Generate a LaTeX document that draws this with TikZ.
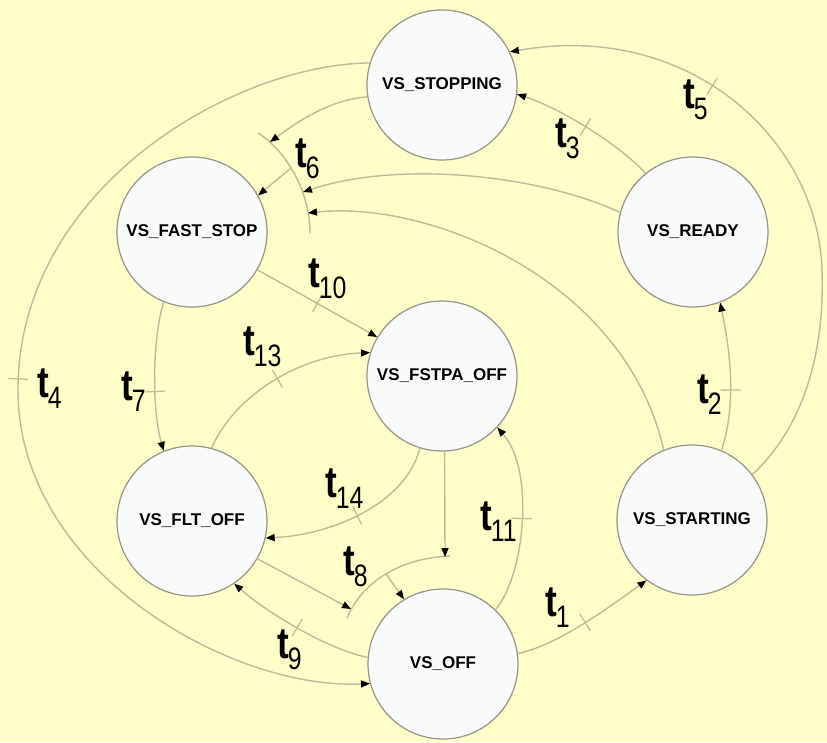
\documentclass[tikz,border=0pt]{standalone}
\usepackage{fontspec}
\setmainfont{Liberation Sans}
\newfontfamily\tfont[FakeStretch=0.8]{Liberation Sans}
\usetikzlibrary{arrows.meta,decorations.markings}
\definecolor{bg}{RGB}{255,253,200}
\definecolor{linec}{RGB}{188,188,150}
\definecolor{rim}{RGB}{150,150,135}
\definecolor{fillc}{RGB}{250,250,252}
\tikzset{
  state/.style={circle, draw=rim, line width=1.2pt, fill=fillc, minimum size=150pt, inner sep=0pt,
    font=\bfseries\fontsize{17}{17}\selectfont},
  conn/.style={draw=linec, line width=1.4pt},
  arr/.style={conn, -{Triangle[length=9pt,width=7pt,color=black]}},
  tickat/.style={postaction={decorate, decoration={markings,
      mark=at position #1 with {\draw[linec, line width=1.2pt, -] (0,-10pt) -- (0,10pt);}}}},
  tlab/.style={anchor=base west, inner sep=0pt, text=black},
}
\newcommand{\tl}[1]{{\tfont\bfseries\fontsize{44}{44}\selectfont t}\kern-1pt\raisebox{-11pt}{\tfont\fontsize{31}{31}\selectfont #1}}
\begin{document}
\begin{tikzpicture}[x=1pt,y=-1pt]
\fill[bg] (0,0) rectangle (827,742);
\useasboundingbox (0,0) rectangle (827,742);

% states
\node[state] (stop)  at (442,85)  {VS\_STOPPING};
\node[state] (fast)  at (192,232) {VS\_FAST\_STOP};
\node[state] (ready) at (693,232) {VS\_READY};
\node[state] (fstpa) at (442,376) {VS\_FSTPA\_OFF};
\node[state] (flt)   at (192,521) {VS\_FLT\_OFF};
\node[state] (start) at (692,520) {VS\_STARTING};
\node[state] (off)   at (443,664) {VS\_OFF};

% transition bars t6 and t8
\coordinate (b6s) at (258,133);
\coordinate (b6e) at (310,233);
\coordinate (t6a) at (270,142);
\coordinate (t6b) at (303,192);
\coordinate (t6c) at (308,213);
\coordinate (t6o) at (291,168);
\draw[conn] (b6s) .. controls (285,150) and (310,190) .. (b6e);

\coordinate (b8s) at (347,618);
\coordinate (b8e) at (450,556);
\coordinate (t8a) at (445,557);
\coordinate (t8b) at (351,609);
\coordinate (t8o) at (386,574);
\draw[conn] (b8s) .. controls (362,582) and (400,558) .. (b8e);

% t1
\draw[arr, tickat=0.5] (off.8) .. controls +(40,-8) and +(-35,25) .. (start.233);
% t2
\draw[arr, tickat=0.41] (start.67) .. controls (737,403) and (730,350) .. (ready.291);
% t3
\draw[arr, tickat=0.5] (ready.129) .. controls (620,145) and (560,108) .. (stop.353);
% t4
\draw[arr, tickat=0.5] (stop.163) .. controls (230,65) and (18,190) .. (18,390)
   .. controls (18,570) and (230,690) .. (off.195);
% t5
\draw[arr, tickat=0.68] (start.37) .. controls (800,430) and (825,360) .. (822,270)
   .. controls (818,140) and (690,20) .. (stop.26);
% t6
\draw[arr] (stop.189) .. controls (330,100) and (300,120) .. (t6a);
\draw[arr] (ready.165) .. controls (540,175) and (400,160) .. (t6b);
\draw[arr] (start.112) .. controls (625,280) and (430,200) .. (t6c);
\draw[arr] (t6o) -- (fast.29);
% t7
\draw[arr, tickat=0.6] (fast.248) .. controls (152,340) and (152,410) .. (flt.112);
% t8
\draw[arr] (fstpa.272) -- (t8a);
\draw[arr] (flt.330) -- (t8b);
\draw[arr] (t8o) -- (off.121);
% t9
\draw[arr, tickat=0.5] (off.175) .. controls (330,650) and (270,615) .. (flt.304);
% t10
\draw[arr, tickat=0.5] (fast.330) -- (fstpa.149);
% t11
\draw[arr, tickat=0.5] (off.46) .. controls (525,575) and (535,470) .. (fstpa.317);
% t13
\draw[arr, tickat=0.5] (flt.75) .. controls (235,395) and (300,355) .. (fstpa.162);
% t14
\draw[arr, tickat=0.5] (fstpa.253) .. controls (405,505) and (330,535) .. (flt.347);

% labels
\node[tlab] (l1)  at (545,616) {\tl{1}};
\node[tlab] (l2)  at (697,403) {\tl{2}};
\node[tlab] (l3)  at (555,147) {\tl{3}};
\node[tlab] (l4)  at (37,397)  {\tl{4}};
\node[tlab] (l5)  at (683,108) {\tl{5}};
\node[tlab] (l6)  at (295,167) {\tl{6}};
\node[tlab] (l7)  at (121,400) {\tl{7}};
\node[tlab] (l8)  at (343,575) {\tl{8}};
\node[tlab] (l9)  at (277,658) {\tl{9}};
\node[tlab] (l10) at (308,287) {\tl{10}};
\node[tlab] (l11) at (480,530) {\tl{11}};
\node[tlab] (l13) at (243,355) {\tl{13}};
\node[tlab] (l14) at (325,497) {\tl{14}};
\end{tikzpicture}
\end{document}
